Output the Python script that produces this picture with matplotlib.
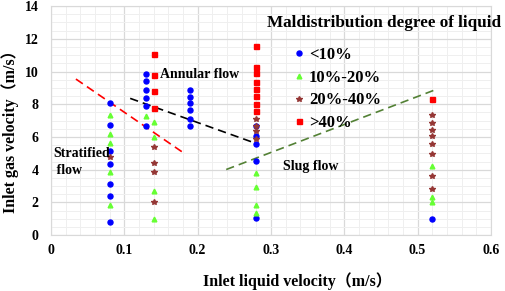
import matplotlib
matplotlib.use("Agg")
import matplotlib.pyplot as plt
from matplotlib.ticker import MultipleLocator

plt.rcParams['font.family'] = ['Liberation Serif', 'Noto Sans CJK SC']
plt.rcParams['font.weight'] = 'bold'

# 数据
blue_x = [0.08]*7 + [0.13]*6 + [0.19]*6 + [0.28]*5 + [0.52]
blue_y = [8.05, 6.72, 5.15, 4.34, 3.12, 2.38, 0.78,
          9.84, 9.43, 8.86, 8.36, 7.89, 6.66,
          8.86, 8.45, 8.05, 7.64, 7.07, 6.70,
          6.70, 6.05, 5.60, 4.53, 1.02,
          0.96]

green_x = [0.08]*5 + [0.13] + [0.14]*4 + [0.28]*4 + [0.52]*3
green_y = [7.33, 6.17, 5.64, 3.87, 1.85,
           7.29,
           6.93, 6.01, 2.71, 0.98,
           3.81, 2.95, 1.83, 1.35,
           4.22, 2.34, 2.00]

brown_x = [0.08] + [0.14]*4 + [0.28]*4 + [0.52]*8
brown_y = [4.75,
           5.40, 4.38, 3.83, 2.04,
           7.10, 6.70, 6.35, 5.86,
           7.33, 6.86, 6.42, 6.05, 5.60, 4.93, 3.63, 2.85]

red_x = [0.14]*4 + [0.28]*8 + [0.52]
red_y = [11.10, 9.78, 8.82, 7.78,
         11.55, 10.28, 9.90, 9.35, 8.91, 8.48, 8.00, 7.59,
         8.31]

labels = ['<10%', '10%-20%', '20%-40%', '>40%']

# 流型分界线
red_line_x = [0.034, 0.184]
red_line_y = [9.54, 4.93]
black_line_x = [0.108, 0.28]
black_line_y = [8.36, 5.60]
green_line_x = [0.239, 0.525]
green_line_y = [4.01, 8.90]

fig = plt.figure(figsize=(5.05, 2.91), dpi=100)
ax = fig.add_axes([0.101, 0.192, 0.871, 0.787])

ax.plot(red_line_x, red_line_y, '--', color='#FF0000', lw=1.2, dashes=(5, 3))
ax.plot(black_line_x, black_line_y, '--', color='black', lw=1.2, dashes=(5, 3))
ax.plot(green_line_x, green_line_y, '--', color='#538135', lw=1.2, dashes=(5, 3))

ax.plot(blue_x, blue_y, 'o', color='#0000FF', ms=3.6, ls='none', label=labels[0])
ax.plot(green_x, green_y, '^', color='#66FF33', ms=3.4, ls='none', label=labels[1])
ax.plot(brown_x, brown_y, '*', color='#953735', ms=4.0, ls='none', label=labels[2])
ax.plot(red_x, red_y, 's', color='#FF0000', ms=3.6, ls='none', label=labels[3])

ax.set_xlim(0, 0.6)
ax.set_ylim(0, 14)
ax.xaxis.set_major_locator(MultipleLocator(0.1))
ax.xaxis.set_minor_locator(MultipleLocator(0.02))
ax.yaxis.set_major_locator(MultipleLocator(2))
ax.yaxis.set_minor_locator(MultipleLocator(0.5))
ax.set_xticks([0, 0.1, 0.2, 0.3, 0.4, 0.5, 0.6])
ax.set_xticklabels(['0', '0.1', '0.2', '0.3', '0.4', '0.5', '0.6'])
ax.grid(True, which='major', color='#d9d9d9', lw=0.9)
ax.grid(True, which='minor', color='#efefef', lw=0.7)
ax.set_axisbelow(True)
for s in ax.spines.values():
    s.set_color('#d9d9d9')
ax.tick_params(which='both', length=0, labelsize=10)
ax.tick_params(axis='x', pad=6.5)
ax.tick_params(axis='y', pad=9)

ax.set_xlabel('Inlet liquid velocity（m/s）', fontsize=11.5, fontweight='bold')
ax.set_ylabel('Inlet gas velocity（m/s）', fontsize=11.5, fontweight='bold')
ax.xaxis.set_label_coords(0.56, -0.16)
ax.yaxis.set_label_coords(-0.073, 0.47)

ax.text(0.149, 9.84, 'Annular flow', fontsize=10, fontweight='bold', va='center')
ax.text(0.003, 4.45, 'Stratified\n flow', fontsize=10, fontweight='bold', va='center',
        linespacing=1.4)
ax.text(0.316, 4.22, 'Slug flow', fontsize=10, fontweight='bold', va='center')

fig.text(267/505, 1 - 23/291, 'Maldistribution degree of liquid', fontsize=12.3,
         fontweight='bold', va='center', ha='left')
ax.legend(loc='upper left', bbox_to_anchor=(0.582, 0.838), bbox_transform=fig.transFigure,
          frameon=False, handlelength=0.6, handletextpad=0.3,
          labelspacing=0.4, borderpad=0, borderaxespad=0,
          prop={'weight': 'bold', 'size': 12})

fig.savefig('out.png', dpi=100)
